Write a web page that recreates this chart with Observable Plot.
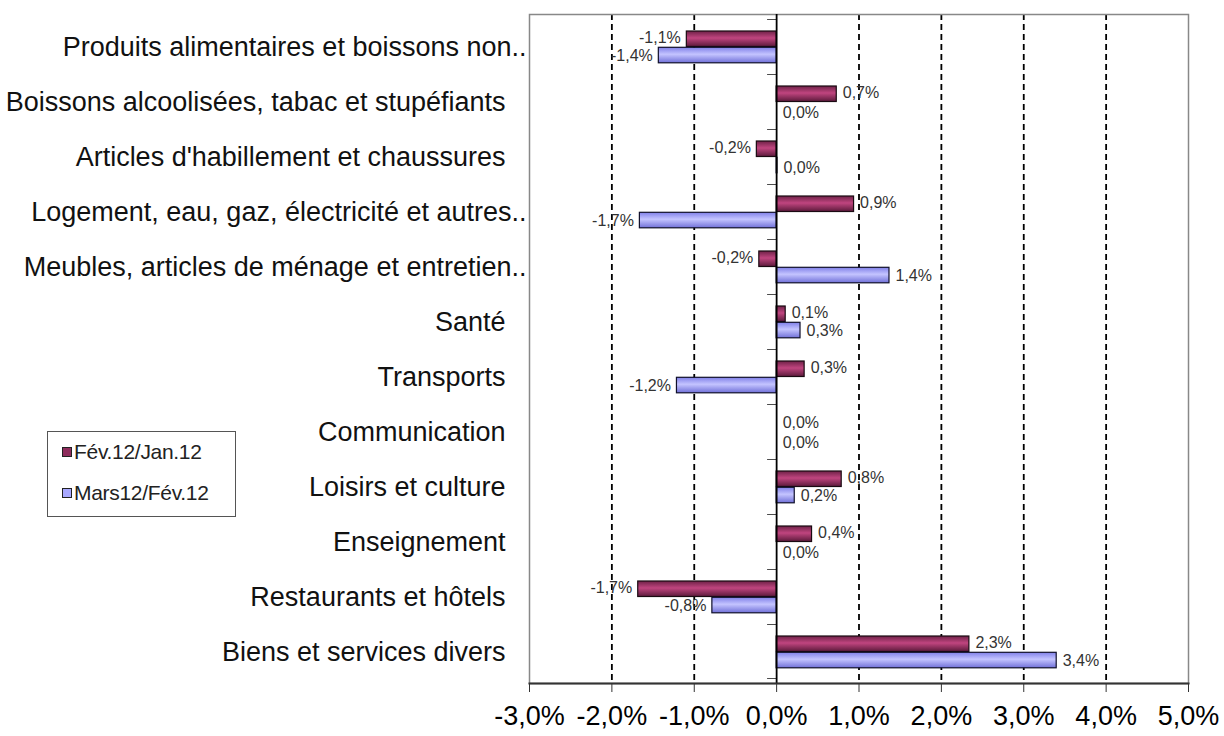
<!DOCTYPE html>
<html>
<head>
<meta charset="utf-8">
<script src="https://cdn.jsdelivr.net/npm/d3@7"></script>
<script src="https://cdn.jsdelivr.net/npm/@observablehq/plot@0.6"></script>
<style>
  html, body { margin: 0; padding: 0; background: white; }
  #wrap { position: relative; width: 1224px; height: 736px; font-family: "Liberation Sans", Arial, sans-serif; }
  #legend { position: absolute; left: 47px; top: 431px; width: 189px; height: 86px; border: 1.5px solid #555; background: white; box-sizing: border-box; }
  .item { position: absolute; left: 14px; font-size: 21px; color: #222; display: flex; align-items: center; letter-spacing: -0.3px; }
  .sw { width: 10px; height: 10px; border: 1.5px solid #222; margin-right: 2px; box-sizing: border-box; }
</style>
</head>
<body>
<div id="wrap"></div>
<script>
const categories = [
  "Produits alimentaires et boissons non..",
  "Boissons alcoolisées, tabac et stupéfiants",
  "Articles d'habillement et chaussures",
  "Logement, eau, gaz, électricité et autres..",
  "Meubles, articles de ménage et entretien..",
  "Santé",
  "Transports",
  "Communication",
  "Loisirs et culture",
  "Enseignement",
  "Restaurants et hôtels",
  "Biens et services divers"
];
const seriesNames = ["Fév.12/Jan.12", "Mars12/Fév.12"];
const fevJan = [-1.09, 0.73, -0.24, 0.94, -0.21, 0.11, 0.34, 0.0, 0.79, 0.43, -1.68, 2.34];
const marsFev = [-1.43, 0.0, 0.01, -1.66, 1.37, 0.29, -1.21, 0.0, 0.22, 0.0, -0.78, 3.40];
const xTicks = [-3, -2, -1, 0, 1, 2, 3, 4, 5];
const gridTicks = [-2, -1, 1, 2, 3, 4];

const rows = categories.map((c, i) => ({category: c, fev: fevJan[i], mars: marsFev[i]}));
const fmt = v => (Math.abs(v) < 0.05 ? "0,0" : v.toFixed(1).replace(".", ",")) + "%";
const pctTick = d => d.toFixed(1).replace(".", ",") + "%";
const truncated = categories.filter(c => c.endsWith(".."));
const full = categories.filter(c => !c.endsWith(".."));

function labels(key, dy, dyZero) {
  const pos = rows.filter(d => d[key] >= 0.05);
  const zero = rows.filter(d => Math.abs(d[key]) < 0.05);
  const neg = rows.filter(d => d[key] <= -0.05);
  const common = {y: "category", x: key, text: d => fmt(d[key]), fontSize: 16, fill: "#333"};
  return [
    Plot.text(pos, {...common, dy, textAnchor: "start", dx: 6}),
    Plot.text(zero, {...common, dy: dyZero, textAnchor: "start", dx: 6}),
    Plot.text(neg, {...common, dy, textAnchor: "end", dx: -6})
  ];
}

const chart = Plot.plot({
  width: 1224,
  height: 736,
  marginLeft: 529,
  marginRight: 36,
  marginTop: 14,
  marginBottom: 53,
  style: {fontFamily: "'Liberation Sans', Arial, sans-serif", background: "white", color: "black"},
  x: {domain: [-3, 5], ticks: xTicks, tickFormat: pctTick, label: null},
  y: {domain: categories, padding: 0, label: null},
  marks: [
    Plot.gridX(gridTicks, {stroke: "black", strokeOpacity: 1, strokeWidth: 1.8, strokeDasharray: "6,4"}),
    Plot.frame({stroke: "#888", strokeWidth: 1.5}),
    Plot.barX(rows, {y: "category", x: "fev", insetTop: 12, insetBottom: 27.5, fill: "url(#gFev)", stroke: "#1a0a12", strokeWidth: 1.2}),
    Plot.barX(rows, {y: "category", x: "mars", insetTop: 28.3, insetBottom: 11.2, fill: "url(#gMars)", stroke: "#10102a", strokeWidth: 1.2}),
    Plot.ruleX([0], {stroke: "black", strokeWidth: 1.8}),
    Plot.barX(categories, {y: d => d, x1: -0.11, x2: 0, insetBottom: 54.3, fill: "black"}),
    Plot.barX(categories.slice(-1), {y: d => d, x1: -0.11, x2: 0, insetTop: 54.3, fill: "black"}),
    ...labels("fev", -9, -9),
    ...labels("mars", 9, 11),
    Plot.frame({anchor: "bottom", stroke: "#333", strokeWidth: 2}),
    Plot.axisX({ticks: xTicks, tickFormat: pctTick, tickSize: 9, tickPadding: 13, fontSize: 27, stroke: "#333", label: null}),
    Plot.axisY({ticks: full, tickSize: 0, tickPadding: 24, fontSize: 27, fill: "#111", label: null}),
    Plot.axisY({ticks: truncated, tickSize: 0, tickPadding: 3, fontSize: 27, fill: "#111", label: null})
  ]
});

const defs = `
<defs>
  <linearGradient id="gFev" x1="0" y1="0" x2="0" y2="1">
    <stop offset="0" stop-color="#6e2147"/>
    <stop offset="0.45" stop-color="#c0457f"/>
    <stop offset="1" stop-color="#5c1a3b"/>
  </linearGradient>
  <linearGradient id="gMars" x1="0" y1="0" x2="0" y2="1">
    <stop offset="0" stop-color="#8080e8"/>
    <stop offset="0.45" stop-color="#c4c4ff"/>
    <stop offset="1" stop-color="#7070d8"/>
  </linearGradient>
</defs>`;
chart.insertAdjacentHTML("afterbegin", defs);

const wrap = document.getElementById("wrap");
wrap.appendChild(chart);

const legend = document.createElement("div");
legend.id = "legend";
const legendColors = ["#8e2c5c", "#a8a8ff"];
seriesNames.forEach((name, i) => {
  const it = document.createElement("div");
  it.className = "item";
  it.style.top = (i === 0 ? 8 : 49) + "px";
  const sw = document.createElement("span");
  sw.className = "sw";
  sw.style.background = legendColors[i];
  it.appendChild(sw);
  it.appendChild(document.createTextNode(name));
  legend.appendChild(it);
});
wrap.appendChild(legend);
</script>
</body>
</html>
